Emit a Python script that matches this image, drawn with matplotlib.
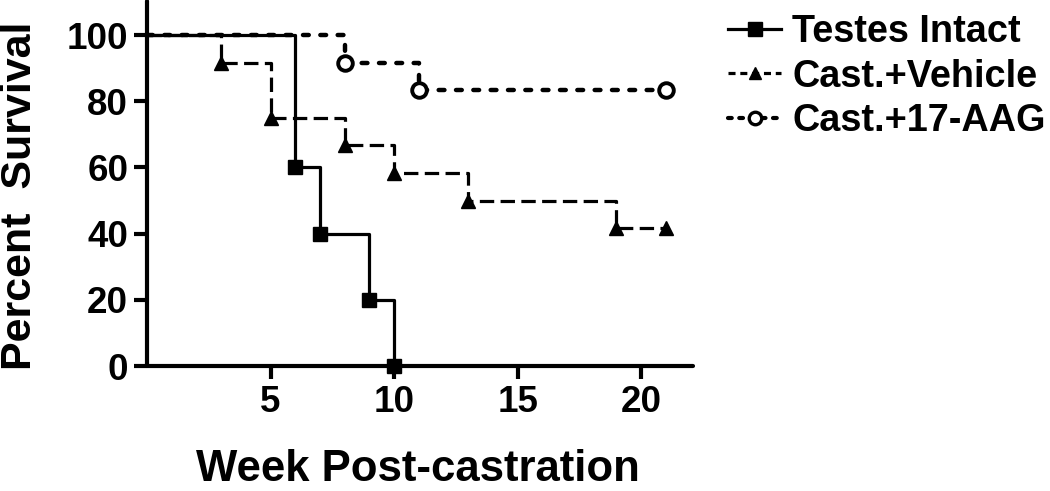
import matplotlib
matplotlib.use("Agg")
import matplotlib.pyplot as plt

# Data (Kaplan-Meier steps): time in weeks, percent survival
intact_t = [0, 6, 7, 9, 10]
intact_s = [100, 60, 40, 20, 0]

vehicle_t = [0, 3, 5, 8, 10, 13, 19, 21]
vehicle_s = [100, 91.7, 75, 66.7, 58.3, 50, 41.7, 41.7]

aag_t = [0, 8, 11, 21]
aag_s = [100, 91.7, 83.3, 83.3]

labels = ["Testes Intact", "Cast.+Vehicle", "Cast.+17-AAG"]
xticks = [5, 10, 15, 20]
yticks = [0, 20, 40, 60, 80, 100]

plt.rcParams['font.family'] = ['Liberation Sans', 'DejaVu Sans']
plt.rcParams['font.weight'] = 'bold'

W, H = 1050, 491
fig = plt.figure(figsize=(W / 100, H / 100), dpi=100)
ax = fig.add_axes([147 / W, 1 - 366 / H, (693 - 147) / W, (366 - 1) / H])

ax.set_xlim(0, 22.1)
ax.set_ylim(0, 110.3)

# Testes intact: solid, filled squares
ax.step(intact_t, intact_s, where='post', color='black', lw=2.3,
        solid_capstyle='butt', zorder=3)
ax.plot(intact_t[1:], intact_s[1:], ls='none', marker='s', ms=10,
        color='black', clip_on=False, zorder=6)

# Vehicle: dashed, filled triangles
ax.step(vehicle_t, vehicle_s, where='post', color='black', lw=2.3,
        dashes=(4.5, 2.0), zorder=4)
ax.plot(vehicle_t[1:], vehicle_s[1:], ls='none', marker='^', ms=10.5,
        color='black', clip_on=False, zorder=6)

# 17-AAG: thick short dashes, open circles
ax.step(aag_t, aag_s, where='post', color='black', lw=3.2,
        dashes=(1.3, 2.6), dash_capstyle='round', zorder=5)
ax.plot(aag_t[1:], aag_s[1:], ls='none', marker='o', ms=10.5, mew=2.8,
        mfc='white', mec='black', clip_on=False, zorder=6)

for s in ['top', 'right']:
    ax.spines[s].set_visible(False)
for s in ['left', 'bottom']:
    ax.spines[s].set_linewidth(3.0)
    ax.spines[s].set_capstyle('round')

ax.set_xticks(xticks)
ax.set_yticks(yticks)
ax.tick_params(axis='both', direction='out', length=9.5, width=3.0,
               labelsize=26.5, pad=4)
for lab in ax.get_xticklabels() + ax.get_yticklabels():
    lab.set_fontweight('bold')

fig.text(20 / W, 1 - 196 / H, "Percent  Survival", rotation=90,
         ha='center', va='center', fontsize=31, fontweight='bold')
fig.text(418 / W, 1 - 481 / H, "Week Post-castration", ha='center',
         va='baseline', fontsize=31.5, fontweight='bold')

# Legend handles (line + marker)
h1 = plt.Line2D([], [], color='black', lw=2.3, marker='s', ms=9.5)
h2 = plt.Line2D([], [], color='black', lw=2.3, dashes=(2.2, 1.5),
                marker='^', ms=9)
h3 = plt.Line2D([], [], color='black', lw=3.0, dashes=(0.9, 1.8),
                dash_capstyle='round', marker='o', ms=9, mew=2.4,
                mfc='white', mec='black')
fig.legend([h1, h2, h3], labels, loc='upper left',
           bbox_to_anchor=(728 / W, 1 - 14 / H), frameon=False,
           handlelength=1.4, handletextpad=0.3,
           labelspacing=0.23, borderpad=0, borderaxespad=0,
           prop={'weight': 'bold', 'size': 27.3})

fig.savefig("out.png", dpi=100)
